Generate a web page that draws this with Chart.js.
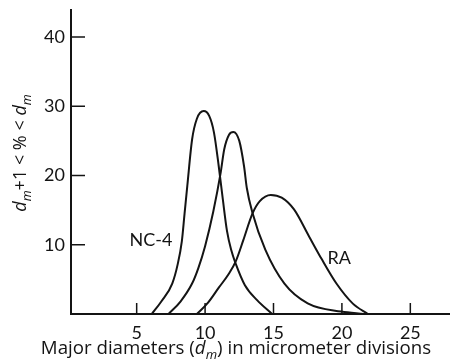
<!DOCTYPE html>
<html>
<head>
    <title>Major diameter distribution</title>
    <style>
        html, body { margin: 0; padding: 0; background: #fff; }
        #wrap { width: 450px; height: 364px; }
    </style>
</head>
<body>
    <div id="wrap"><canvas id="diamChart"></canvas></div>

    <script src="https://cdn.jsdelivr.net/npm/chart.js"></script>
    <script>
        // tick labels
        const xTicks = [5, 10, 15, 20, 25];
        const yTicks = [10, 20, 30, 40];

        // NC-4 (tall narrow curve)
        const nc4X = [6.1, 6.8, 7.6, 8.0, 8.3, 8.5, 8.7, 9.05, 9.4, 9.9, 10.3, 10.65, 11.0, 11.3, 11.6, 11.9, 12.25, 12.9, 13.8, 14.9];
        const nc4Y = [0, 1.8, 4.4, 7.2, 10.5, 14.5, 18.5, 25.2, 28.2, 29.3, 28.6, 26.2, 21.3, 16.5, 12.0, 9.3, 7.2, 4.2, 2.0, 0];

        // middle curve (no label)
        const midX = [7.33, 8.2, 9.05, 9.5, 10.0, 10.6, 11.13, 11.4, 11.75, 12.07, 12.5, 12.85, 13.05, 13.45, 14.4, 15.8, 17.5, 19.95, 21.6];
        const midY = [0, 1.8, 4.4, 6.6, 9.8, 14.8, 20.3, 23.8, 25.9, 26.3, 25.0, 21.3, 18.2, 14.7, 9.3, 4.4, 1.55, 0.35, 0];

        // RA (broad curve)
        const raX = [9.4, 10.2, 11.0, 11.7, 12.24, 12.8, 13.46, 14.0, 14.8, 15.6, 16.5, 17.6, 18.5, 19.6, 20.8, 21.9];
        const raY = [0, 1.6, 3.8, 5.7, 7.6, 10.7, 14.5, 16.3, 17.2, 16.8, 15.1, 11.2, 8.0, 4.4, 1.5, 0];

        const toPoints = (xs, ys) => xs.map((x, i) => ({ x: x, y: ys[i] }));

        const ink = '#141414';
        const fontFam = 'Lato, "Open Sans", sans-serif';
        const titleFam = '"Open Sans", Lato, sans-serif';

        // draws text made of pieces, some italic / subscript
        function richText(ctx, parts, cx, cy, size) {
            let total = 0;
            const fontOf = p => (p.it ? 'italic ' : '') + (p.sub ? size * 0.7 : size) + 'px ' + titleFam;
            const widths = parts.map(p => {
                ctx.font = fontOf(p);
                const w = ctx.measureText(p.t).width;
                total += w;
                return w;
            });
            let x = cx - total / 2;
            ctx.textBaseline = 'alphabetic';
            ctx.textAlign = 'left';
            parts.forEach((p, i) => {
                ctx.font = fontOf(p);
                ctx.fillText(p.t, x, cy + (p.sub ? size * 0.25 : 0));
                x += widths[i];
            });
        }

        const extras = {
            id: 'extras',
            afterDatasetsDraw(chart) {
                const ctx = chart.ctx;
                const xs = chart.scales.x, ys = chart.scales.y;
                const area = chart.chartArea;
                ctx.save();
                ctx.strokeStyle = ink;
                ctx.lineWidth = 1.5;
                ctx.beginPath();
                xTicks.forEach(v => {
                    const px = xs.getPixelForValue(v);
                    ctx.moveTo(px, area.bottom);
                    ctx.lineTo(px, area.bottom - 11);
                });
                yTicks.forEach(v => {
                    const py = ys.getPixelForValue(v);
                    ctx.moveTo(area.left, py);
                    ctx.lineTo(area.left + 14, py);
                });
                ctx.stroke();

                ctx.fillStyle = ink;
                ctx.font = '18px ' + fontFam;
                ctx.textAlign = 'center';
                ctx.textBaseline = 'middle';
                ctx.fillText('NC-4', xs.getPixelForValue(6.05), ys.getPixelForValue(10.7));
                ctx.fillText('RA', xs.getPixelForValue(19.8), ys.getPixelForValue(8.0));

                richText(ctx, [
                    { t: 'Major diameters (' },
                    { t: 'd', it: true },
                    { t: 'm', it: true, sub: true },
                    { t: ') in micrometer divisions' }
                ], 236, 354, 18.7);

                ctx.translate(20, 153);
                ctx.rotate(-Math.PI / 2);
                richText(ctx, [
                    { t: 'd', it: true },
                    { t: 'm', it: true, sub: true },
                    { t: '+1 < % < ' },
                    { t: 'd', it: true },
                    { t: 'm', it: true, sub: true }
                ], 0, 6, 18);
                ctx.restore();
            }
        };

        const lineSet = (label, xs, ys) => ({
            label: label,
            data: toPoints(xs, ys),
            borderColor: ink,
            borderWidth: 2,
            pointRadius: 0,
            fill: false,
            cubicInterpolationMode: 'monotone'
        });

        new Chart(document.getElementById('diamChart'), {
            type: 'line',
            data: {
                datasets: [
                    lineSet('NC-4', nc4X, nc4Y),
                    lineSet('middle', midX, midY),
                    lineSet('RA', raX, raY)
                ]
            },
            options: {
                responsive: true,
                maintainAspectRatio: false,
                animation: false,
                layout: { padding: { top: 10, right: 0, left: 0, bottom: 0 } },
                plugins: {
                    legend: { display: false },
                    tooltip: { enabled: false }
                },
                scales: {
                    x: {
                        type: 'linear',
                        min: 0.2,
                        max: 27.9,
                        afterBuildTicks: s => { s.ticks = xTicks.map(v => ({ value: v })); },
                        afterFit: s => { s.height = 50; s.paddingLeft = 0; s.paddingRight = 0; },
                        grid: { display: false, drawTicks: false },
                        border: { display: true, color: ink, width: 2 },
                        ticks: { color: ink, padding: 8, font: { family: fontFam, size: 18 }, maxRotation: 0 }
                    },
                    y: {
                        type: 'linear',
                        min: 0,
                        max: 43.9,
                        afterBuildTicks: s => { s.ticks = yTicks.map(v => ({ value: v })); },
                        afterFit: s => { s.width = 71; s.paddingTop = 0; s.paddingBottom = 0; },
                        grid: { display: false, drawTicks: false },
                        border: { display: true, color: ink, width: 2 },
                        ticks: { color: ink, padding: 6, font: { family: fontFam, size: 18 } }
                    }
                }
            },
            plugins: [extras]
        });
    </script>
</body>
</html>
